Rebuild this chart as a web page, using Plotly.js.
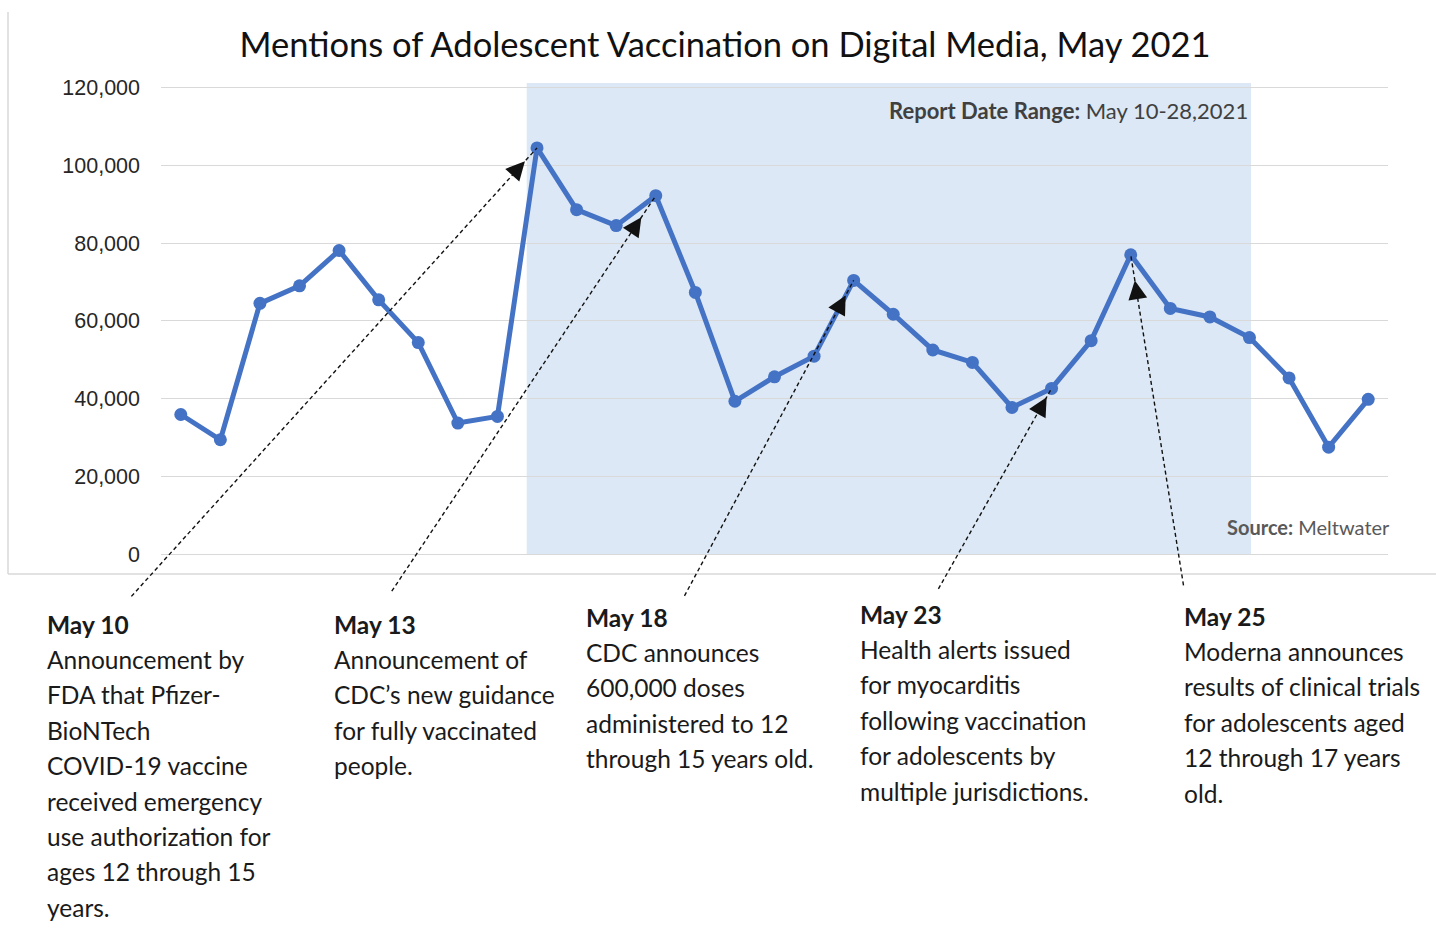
<!DOCTYPE html>
<html>
<head>
<meta charset="utf-8">
<script src="https://cdn.plot.ly/plotly-3.0.1.min.js"></script>
<style>html,body{margin:0;padding:0;background:#fff;}#chart{width:1436px;height:934px;}</style>
</head>
<body>
<div id="chart"></div>
<script>
// ---- data ----
const days = [1,2,3,4,5,6,7,8,9,10,11,12,13,14,15,16,17,18,19,20,21,22,23,24,25,26,27,28,29,30,31];
const mentions = [35900, 29400, 64500, 69000, 78100, 65400, 54400, 33700, 35400, 104500,
                  88600, 84500, 92200, 67300, 39300, 45600, 50900, 70400, 61700, 52500,
                  49300, 37700, 42600, 54900, 77000, 63200, 61000, 55700, 45300, 27500, 39800];
const yTicks = [0, 20000, 40000, 60000, 80000, 100000, 120000];
const reportStart = 10, reportEnd = 28;
const eventDays = [10, 13, 18, 23, 25];
const eventTitles = ['May 10', 'May 13', 'May 18', 'May 23', 'May 25'];
const eventTexts = [
  ['Announcement by', 'FDA that Pfizer-', 'BioNTech', 'COVID-19 vaccine', 'received emergency', 'use authorization for', 'ages 12 through 15', 'years.'],
  ['Announcement of', 'CDC\u2019s new guidance', 'for fully vaccinated', 'people.'],
  ['CDC announces', '600,000 doses', 'administered to 12', 'through 15 years old.'],
  ['Health alerts issued', 'for myocarditis', 'following vaccination', 'for adolescents by', 'multiple jurisdictions.'],
  ['Moderna announces', 'results of clinical trials', 'for adolescents aged', '12 through 17 years', 'old.']
];
const titleText = 'Mentions of Adolescent Vaccination on Digital Media, May 2021';

// ---- layout helpers (pixel -> paper) ----
const W = 1436, H = 934;
const M = {l: 161, r: 48, t: 83, b: 380};
const pw = W - M.l - M.r, ph = H - M.t - M.b;
const px = x => (x - M.l) / pw;
const py = y => (H - M.b - y) / ph;

// arrow styling: tail offsets (pixels from point) and standoff
const arrowStyle = [
  {ax: -407, ay: 450, standoff: 18},
  {ax: -265, ay: 397, standoff: 26},
  {ax: -170, ay: 317, standoff: 17},
  {ax: -114, ay: 202, standoff: 10},
  {ax: 53, ay: 332, standoff: 26}
];
const blockPos = [
  {x: 45, y: 624}, {x: 332, y: 624}, {x: 584, y: 617}, {x: 858, y: 614}, {x: 1182, y: 616}
];
const lineGap = 35.4;
const textFont = 'Lato, "Open Sans", sans-serif';
const textSize = 24.5;

const annotations = [];
eventDays.forEach((d, i) => {
  const idx = days.indexOf(d);
  annotations.push({
    x: d, y: mentions[idx], xref: 'x', yref: 'y',
    axref: 'pixel', ayref: 'pixel', ax: arrowStyle[i].ax, ay: arrowStyle[i].ay,
    text: '', showarrow: true, arrowhead: 2, arrowsize: 2.7, arrowwidth: 1.4,
    arrowcolor: '#111', standoff: arrowStyle[i].standoff
  });
  const b = blockPos[i];
  annotations.push({
    xref: 'paper', yref: 'paper', x: px(b.x), y: py(b.y), xanchor: 'left', yanchor: 'middle',
    text: '<b>' + eventTitles[i] + '</b>', showarrow: false,
    font: {family: textFont, size: textSize, color: '#1a1a1a'}
  });
  eventTexts[i].forEach((t, j) => {
    annotations.push({
      xref: 'paper', yref: 'paper', x: px(b.x), y: py(b.y + lineGap * (j + 1)),
      xanchor: 'left', yanchor: 'middle', text: t, showarrow: false,
      font: {family: textFont, size: textSize, color: '#1a1a1a'}
    });
  });
});
annotations.push({
  xref: 'paper', yref: 'paper', x: px(1250), y: py(110), xanchor: 'right', yanchor: 'middle',
  text: '<b>Report Date Range:</b> May 10-28,2021', showarrow: false,
  font: {family: textFont, size: 22, color: '#404040'}
});
annotations.push({
  xref: 'paper', yref: 'paper', x: px(1392), y: py(527), xanchor: 'right', yanchor: 'middle',
  text: '<b>Source:</b> Meltwater', showarrow: false,
  font: {family: textFont, size: 20, color: '#595959'}
});

const shapes = [
  {type: 'rect', xref: 'x', yref: 'paper', x0: reportStart - 0.26, x1: reportEnd + 0.04, y0: 0, y1: 1,
   fillcolor: '#dce8f5', line: {width: 0}, layer: 'below'},
  {type: 'line', xref: 'paper', yref: 'paper', x0: px(8), x1: px(8), y0: py(12), y1: py(574),
   line: {color: '#d9d9d9', width: 1.5}},
  {type: 'line', xref: 'paper', yref: 'paper', x0: px(8), x1: px(1436), y0: py(574), y1: py(574),
   line: {color: '#d9d9d9', width: 1.5}}
];

const trace = {
  x: days, y: mentions, type: 'scatter', mode: 'lines+markers',
  line: {color: '#4472c4', width: 5},
  marker: {color: '#4472c4', size: 13},
  hoverinfo: 'x+y'
};

const layout = {
  width: W, height: H,
  margin: M,
  paper_bgcolor: '#ffffff', plot_bgcolor: '#ffffff',
  showlegend: false,
  title: {text: titleText, xref: 'container', yref: 'container', x: 725 / W, y: 1 - 45 / H,
          xanchor: 'center', yanchor: 'middle',
          font: {family: textFont, size: 34.5, color: '#111'}},
  xaxis: {range: [0.5, 31.5], showticklabels: false, showgrid: false, zeroline: false,
          showline: false, ticks: ''},
  yaxis: {range: [0, 121200], tickvals: yTicks, tickformat: ',d', showgrid: true,
          gridcolor: '#d9d9d9', gridwidth: 1, zeroline: true, zerolinecolor: '#d9d9d9',
          zerolinewidth: 1, showline: false, ticks: '', ticklabelstandoff: 20,
          tickfont: {family: '"Liberation Sans", Arial, sans-serif', size: 21.5, color: '#262626'}},
  annotations: annotations,
  shapes: shapes
};

Plotly.newPlot('chart', [trace], layout, {displayModeBar: false, staticPlot: true}).then(() => {
  document.querySelectorAll('.annotation-arrow-g path').forEach(p => {
    p.style.strokeDasharray = '4,3';
  });
});
</script>
</body>
</html>
